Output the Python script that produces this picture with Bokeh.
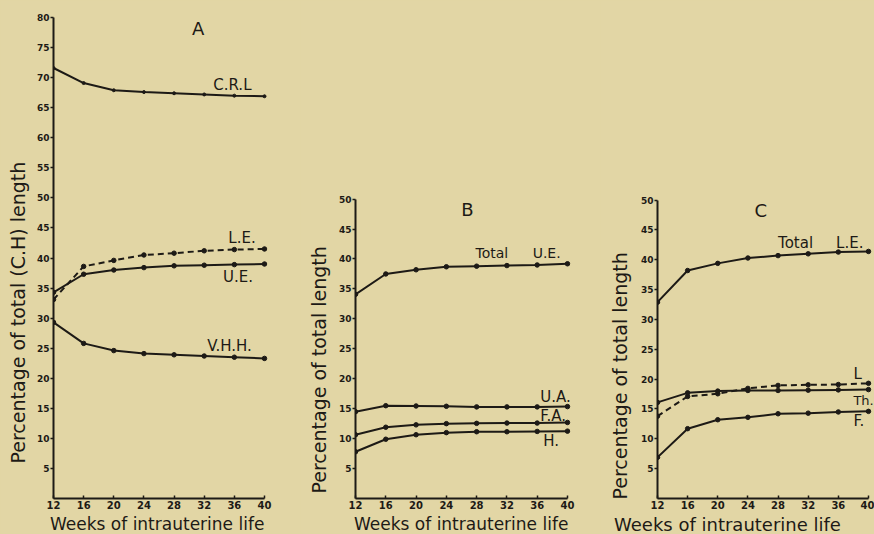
import math
from bokeh.plotting import figure
from bokeh.layouts import row
from bokeh.models import Label, FixedTicker, Title
from bokeh.embed import file_html
from bokeh.resources import INLINE

# ---------------- data ----------------
weeks = [12, 16, 20, 24, 28, 32, 36, 40]
ticks_a = [5, 10, 15, 20, 25, 30, 35, 40, 45, 50, 55, 60, 65, 70, 75, 80]
ticks_bc = [5, 10, 15, 20, 25, 30, 35, 40, 45, 50]

a_crl = [71.6, 69.1, 67.9, 67.6, 67.4, 67.2, 67.0, 66.9]
a_le = [33.1, 38.6, 39.6, 40.5, 40.8, 41.2, 41.4, 41.5]
a_ue = [34.3, 37.3, 38.0, 38.4, 38.7, 38.8, 38.9, 39.0]
a_vhh = [29.3, 25.8, 24.6, 24.1, 23.9, 23.7, 23.5, 23.3]

b_total_ue = [34.1, 37.5, 38.2, 38.7, 38.8, 38.9, 39.0, 39.2]
b_ua = [14.5, 15.5, 15.45, 15.4, 15.3, 15.3, 15.3, 15.35]
b_fa = [10.65, 11.9, 12.3, 12.5, 12.55, 12.6, 12.6, 12.7]
b_h = [7.8, 9.9, 10.65, 11.0, 11.15, 11.15, 11.2, 11.25]

c_total_le = [32.9, 38.2, 39.4, 40.3, 40.7, 41.0, 41.3, 41.4]
c_l = [13.8, 17.1, 17.55, 18.45, 18.95, 19.05, 19.1, 19.3]
c_th = [16.1, 17.7, 18.0, 18.1, 18.1, 18.15, 18.2, 18.25]
c_f = [6.9, 11.7, 13.2, 13.6, 14.2, 14.3, 14.5, 14.6]

x_title = "Weeks of intrauterine life"
y_title_a = "Percentage of total (C.H) length"
y_title_bc = "Percentage of total length"

# ---------------- style ----------------
BG = "#e2d6a5"
INK = "#1d1a16"
FONT = "DejaVu Sans"


def panel(width, x_end, y_end, y_axis_top, bl, br, yticks):
    p = figure(width=width, height=534, x_range=(12, x_end), y_range=(0, y_end),
               output_backend="svg", toolbar_location=None,
               min_border_left=bl, min_border_right=br,
               min_border_top=17, min_border_bottom=35)
    p.background_fill_color = None
    p.border_fill_color = BG
    p.outline_line_color = None
    p.grid.visible = False
    p.xaxis.ticker = FixedTicker(ticks=weeks)
    p.xaxis.bounds = (12, 40)
    p.yaxis.ticker = FixedTicker(ticks=yticks)
    p.yaxis.bounds = (0, y_axis_top)
    for ax in (p.xaxis, p.yaxis):
        ax.axis_line_width = 2
        ax.axis_line_color = INK
        ax.major_tick_line_color = INK
        ax.major_tick_line_width = 1.5
        ax.minor_tick_line_color = None
        ax.major_label_text_font = FONT
        ax.major_label_text_font_style = "bold"
        ax.major_label_text_color = INK
    p.xaxis.major_tick_in = 3
    p.xaxis.major_tick_out = 0
    p.xaxis.major_label_standoff = 2
    p.xaxis.major_label_text_font_size = "10px"
    p.yaxis.major_tick_in = 0
    p.yaxis.major_tick_out = 3
    p.yaxis.major_label_standoff = 1
    p.yaxis.major_label_text_font_size = "9px"
    return p


def series(p, ys, dashed=False, marker_size=4.5):
    kw = dict(line_color=INK, line_width=2)
    if dashed:
        kw["line_dash"] = "6 4"
    p.line(weeks, ys, **kw)
    p.scatter(weeks, ys, size=marker_size, fill_color=INK, line_color=INK)


def label(p, x, y, text, size="15px", align="left", baseline="middle"):
    p.add_layout(Label(x=x, y=y, text=text, text_font=FONT, text_font_size=size,
                       text_color=INK, text_align=align, text_baseline=baseline))


def titles(p, ytext, ysize, yoff, ystand, xsize, xoff):
    p.add_layout(Title(text=ytext, align="left", offset=yoff, standoff=ystand,
                       vertical_align="middle",
                       text_font=FONT, text_font_size=ysize, text_font_style="normal",
                       text_color=INK), "left")
    p.add_layout(Title(text=x_title, align="left", offset=xoff, standoff=0,
                       text_font=FONT, text_font_size=xsize, text_font_style="normal",
                       text_color=INK), "below")


# ---------------- panel A ----------------
pa = panel(300, 41.86, 80, 80, 53, 22, ticks_a)
series(pa, a_crl, marker_size=3)
series(pa, a_le, dashed=True)
series(pa, a_ue)
series(pa, a_vhh)
label(pa, 31.2, 78.2, "A", size="18px", align="center")
label(pa, 33.2, 68.7, "C.R.L")
label(pa, 35.2, 43.4, "L.E.")
label(pa, 34.5, 36.9, "U.E.")
label(pa, 32.4, 25.4, "V.H.H.")
titles(pa, y_title_a, "19px", 35, 8, "17px", -3.5)

# ---------------- panel B ----------------
pb = panel(300, 41.06, 80.33, 50, 55, 25, ticks_bc)
series(pb, b_total_ue)
series(pb, b_ua)
series(pb, b_fa)
series(pb, b_h)
label(pb, 26.8, 48.2, "B", size="18px", align="center")
label(pb, 27.85, 41.0, "Total", size="14px")
label(pb, 35.4, 41.0, "U.E.", size="14px")
label(pb, 36.4, 16.9, "U.A.")
label(pb, 36.4, 13.8, "F.A.")
label(pb, 36.8, 9.6, "H.")
titles(pb, y_title_bc, "19px", 5, 10, "17px", -1.5)

# ---------------- panel C ----------------
pc = panel(274, 40.8, 80.6, 50, 57, 0, ticks_bc)
series(pc, c_total_le)
series(pc, c_l, dashed=True)
series(pc, c_th)
series(pc, c_f)
label(pc, 25.7, 48.3, "C", size="18px", align="center")
label(pc, 28.0, 42.8, "Total")
label(pc, 35.7, 42.8, "L.E.")
label(pc, 38.0, 20.8, "L")
label(pc, 38.0, 16.4, "Th.", size="13px")
label(pc, 38.0, 13.05, "F.")
titles(pc, y_title_bc, "19px", -1, 12, "18px", -43.5)

layout = row(pa, pb, pc, styles={"background-color": BG})
open("out.html", "w").write(file_html(layout, INLINE))
